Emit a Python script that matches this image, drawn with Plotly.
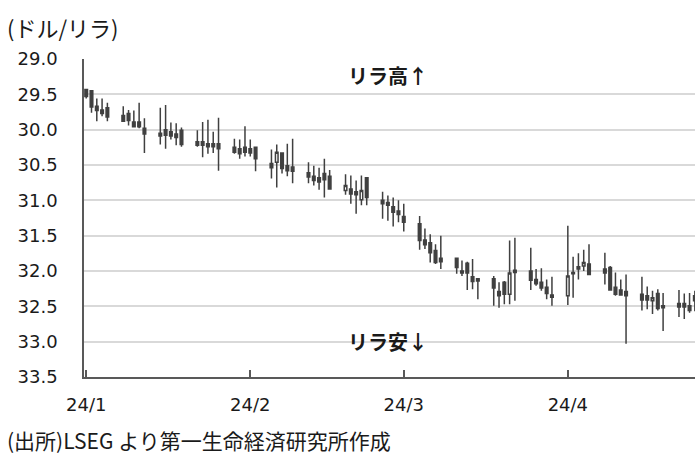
import plotly.graph_objects as go

# USD/TRY daily candles, Jan–Apr 2024
dates = [
    "2024-01-01", "2024-01-02", "2024-01-03", "2024-01-04", "2024-01-05",
    "2024-01-08", "2024-01-09", "2024-01-10", "2024-01-11", "2024-01-12",
    "2024-01-15", "2024-01-16", "2024-01-17", "2024-01-18", "2024-01-19",
    "2024-01-22", "2024-01-23", "2024-01-24", "2024-01-25", "2024-01-26",
    "2024-01-29", "2024-01-30", "2024-01-31", "2024-02-01", "2024-02-02",
    "2024-02-05", "2024-02-06", "2024-02-07", "2024-02-08", "2024-02-09",
    "2024-02-12", "2024-02-13", "2024-02-14", "2024-02-15", "2024-02-16",
    "2024-02-19", "2024-02-20", "2024-02-21", "2024-02-22", "2024-02-23",
    "2024-02-26", "2024-02-27", "2024-02-28", "2024-02-29", "2024-03-01",
    "2024-03-04", "2024-03-05", "2024-03-06", "2024-03-07", "2024-03-08",
    "2024-03-11", "2024-03-12", "2024-03-13", "2024-03-14", "2024-03-15",
    "2024-03-18", "2024-03-19", "2024-03-20", "2024-03-21", "2024-03-22",
    "2024-03-25", "2024-03-26", "2024-03-27", "2024-03-28", "2024-03-29",
    "2024-04-01", "2024-04-02", "2024-04-03", "2024-04-04", "2024-04-05",
    "2024-04-08", "2024-04-09", "2024-04-10", "2024-04-11", "2024-04-12",
    "2024-04-15", "2024-04-16", "2024-04-17", "2024-04-18", "2024-04-19",
    "2024-04-22", "2024-04-23", "2024-04-24", "2024-04-25",
]
open_ = [
    29.43, 29.45, 29.67, 29.72, 29.69,
    29.80, 29.77, 29.89, 29.89, 29.98,
    30.05, 30.00, 30.03, 30.06, 30.01,
    30.17, 30.17, 30.20, 30.20, 30.20,
    30.25, 30.27, 30.25, 30.27, 30.25,
    30.48, 30.46, 30.33, 30.51, 30.53,
    30.61, 30.66, 30.68, 30.62, 30.66,
    30.86, 30.84, 30.88, 30.99, 30.68,
    31.00, 31.03, 31.09, 31.15, 31.23,
    31.33, 31.56, 31.60, 31.71, 31.82,
    31.82, 32.00, 31.89, 32.08, 32.11,
    32.11, 32.29, 32.16, 32.33, 31.99,
    32.00, 32.12, 32.16, 32.23, 32.34,
    32.35, 32.02, 31.94, 31.93, 31.90,
    31.97, 31.95, 32.23, 32.27, 32.29,
    32.33, 32.35, 32.42, 32.32, 32.49,
    32.46, 32.46, 32.49, 32.35,
]
high = [
    29.56, 29.76, 29.88, 29.81, 29.88,
    29.89, 29.94, 29.96, 29.98, 30.33,
    30.21, 30.27, 30.14, 30.22, 30.24,
    30.24, 30.39, 30.34, 30.33, 30.58,
    30.34, 30.41, 30.38, 30.38, 30.59,
    30.69, 30.82, 30.62, 30.66, 30.76,
    30.76, 30.79, 30.85, 30.96, 30.85,
    30.92, 31.05, 31.19, 31.07, 31.07,
    31.26, 31.29, 31.37, 31.31, 31.44,
    31.70, 31.69, 31.88, 31.90, 31.97,
    32.04, 32.07, 32.27, 32.26, 32.40,
    32.49, 32.52, 32.47, 32.47, 32.42,
    32.27, 32.21, 32.28, 32.40, 32.49,
    32.48, 32.38, 32.12, 32.00, 32.05,
    32.19, 32.28, 32.35, 32.35, 33.03,
    32.56, 32.54, 32.61, 32.56, 32.85,
    32.65, 32.68, 32.59, 32.57,
]
low = [
    29.42, 29.44, 29.56, 29.56, 29.62,
    29.67, 29.72, 29.73, 29.62, 29.84,
    29.69, 29.65, 29.90, 29.91, 29.97,
    30.01, 29.89, 29.86, 30.03, 29.83,
    30.13, 30.14, 29.95, 30.14, 30.24,
    30.28, 30.21, 30.32, 30.20, 30.13,
    30.46, 30.51, 30.54, 30.41, 30.57,
    30.63, 30.65, 30.72, 30.65, 30.67,
    30.88, 30.93, 30.96, 31.00, 31.05,
    31.22, 31.40, 31.48, 31.62, 31.50,
    31.81, 31.85, 31.87, 31.83, 32.10,
    32.07, 32.16, 32.14, 31.57, 31.53,
    31.67, 31.97, 31.96, 32.12, 32.08,
    31.36, 31.80, 31.75, 31.70, 31.62,
    31.74, 31.93, 32.02, 32.12, 32.05,
    32.08, 32.22, 32.28, 32.26, 32.31,
    32.27, 32.32, 32.31, 32.28,
]
close = [
    29.53, 29.68, 29.73, 29.77, 29.82,
    29.88, 29.87, 29.96, 29.96, 30.06,
    30.09, 30.08, 30.09, 30.11, 30.21,
    30.22, 30.22, 30.24, 30.24, 30.27,
    30.32, 30.34, 30.32, 30.33, 30.41,
    30.54, 30.32, 30.55, 30.58, 30.59,
    30.67, 30.72, 30.74, 30.71, 30.84,
    30.79, 30.91, 30.92, 30.86, 30.96,
    31.05, 31.07, 31.17, 31.20, 31.31,
    31.57, 31.63, 31.74, 31.88, 31.87,
    31.95, 32.03, 32.03, 32.15, 32.14,
    32.24, 32.35, 32.33, 32.03, 32.02,
    32.13, 32.18, 32.24, 32.32, 32.37,
    32.07, 32.04, 31.97, 31.88, 32.05,
    32.03, 32.27, 32.33, 32.34, 32.35,
    32.41, 32.41, 32.38, 32.53, 32.52,
    32.51, 32.51, 32.56, 32.42,
]

month_ticks = ["2024-01-01", "2024-02-01", "2024-03-01", "2024-04-01"]
month_labels = ["24/1", "24/2", "24/3", "24/4"]

DARK = "#404040"
AXIS = "#595959"
TEXT = "#1a1a1a"
JP_FONT = "Noto Sans CJK JP"
NUM_FONT = "DejaVu Sans"

fig = go.Figure(
    go.Candlestick(
        x=dates, open=open_, high=high, low=low, close=close,
        increasing=dict(line=dict(color=DARK, width=1.5), fillcolor=DARK),
        decreasing=dict(line=dict(color=DARK, width=1.5), fillcolor="white"),
        whiskerwidth=0,
        hoverinfo="skip",
    )
)

fig.update_layout(
    width=695, height=455,
    margin=dict(l=84, r=0, t=59, b=78),
    paper_bgcolor="white", plot_bgcolor="white",
    showlegend=False,
    xaxis=dict(
        type="date",
        range=["2023-12-31 14:00", "2024-04-25 00:40"],
        rangeslider=dict(visible=False),
        tickvals=month_ticks, ticktext=month_labels,
        ticks="inside", ticklen=7, tickwidth=1.5, tickcolor=AXIS,
        showgrid=False, zeroline=False,
        showline=True, linecolor=AXIS, linewidth=1.5,
        tickfont=dict(family=NUM_FONT, size=18, color=TEXT),
        ticklabelstandoff=11,
    ),
    yaxis=dict(
        range=[33.5, 29.0],
        tick0=29.0, dtick=0.5, tickformat=".1f",
        showgrid=True, gridcolor="#d9d9d9", gridwidth=1.5,
        zeroline=False,
        showline=True, linecolor=AXIS, linewidth=1.5,
        ticks="",
        tickfont=dict(family=NUM_FONT, size=18, color=TEXT),
        ticklabelstandoff=21,
    ),
    annotations=[
        dict(text="(ドル/リラ)", xref="paper", yref="paper",
             x=-79 / 611, y=1 + 32 / 318, xanchor="left", yanchor="middle",
             showarrow=False, font=dict(family=JP_FONT, size=22, color=TEXT)),
        dict(text="<b>リラ高↑</b>", xref="paper", yref="paper",
             x=(388 - 84) / 611, y=1 - 16 / 318, xanchor="center", yanchor="middle",
             showarrow=False, font=dict(family=JP_FONT, size=20, color=TEXT)),
        dict(text="<b>リラ安↓</b>", xref="paper", yref="paper",
             x=(388 - 84) / 611, y=1 - 282 / 318, xanchor="center", yanchor="middle",
             showarrow=False, font=dict(family=JP_FONT, size=20, color=TEXT)),
        dict(text="(出所)LSEG より第一生命経済研究所作成", xref="paper", yref="paper",
             x=-79 / 611, y=-(440 - 377) / 318, xanchor="left", yanchor="middle",
             showarrow=False, font=dict(family=JP_FONT, size=21, color=TEXT)),
    ],
)

fig.write_html("out.html")
